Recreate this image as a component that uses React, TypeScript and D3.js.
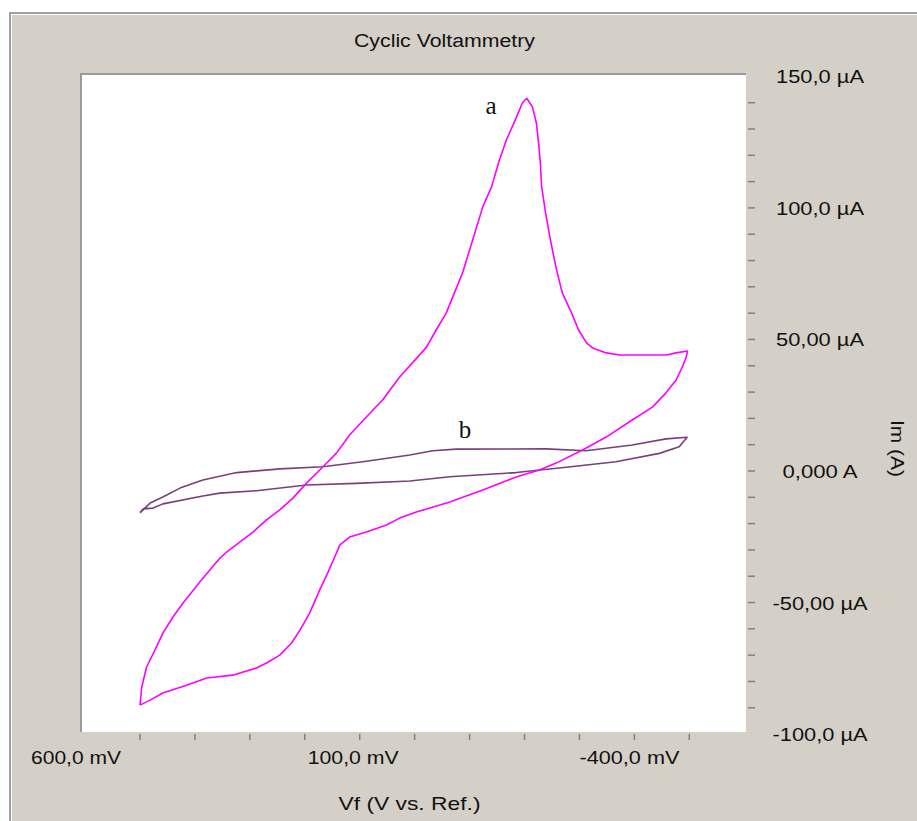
import React from "react";
import * as d3 from "d3";

// ---- data (mV, µA) ----
const curveA_V = [600, 596, 585, 566, 548, 525, 502, 482, 464, 441, 418, 403, 373, 343, 312, 282, 252, 221, 184, 153, 123, 85, 48, 9, -20, -52, -74, -97, -134, -157, -180, -200, -218, -234, -257, -270, -280, -293, -302, -307, -311, -314, -323, -334, -348, -361, -382, -398, -416, -430, -461, -491, -598, -620, -646, -643, -634, -620, -597, -566, -520, -461, -407, -347, -309, -256, -180, -105, -29, 9, 39, 85, 123, 145, 157, 173, 191, 214, 236, 255, 282, 312, 335, 389, 448, 494, 548, 577, 600];
const curveA_I = [-89.0, -82.1, -74.5, -68.1, -61.6, -55.5, -50.2, -46.0, -42.2, -37.6, -33.1, -30.8, -27.0, -23.2, -18.6, -14.8, -10.3, -4.6, 1.5, 6.8, 13.7, 20.5, 27.0, 35.7, 41.1, 47.1, 53.6, 60.1, 75.3, 87.8, 100.4, 108.0, 118.3, 125.9, 134.6, 139.9, 141.7, 138.4, 132.3, 124.7, 117.1, 108.0, 98.1, 87.8, 76.4, 67.7, 60.1, 53.6, 48.7, 46.8, 44.9, 44.1, 44.1, 44.9, 45.6, 43.3, 39.5, 34.6, 29.7, 24.3, 19.4, 12.9, 8.0, 3.0, 0.4, -2.3, -7.2, -11.8, -15.6, -17.9, -20.5, -23.2, -25.1, -28.1, -32.7, -38.8, -45.2, -54.0, -60.5, -65.4, -70.0, -73.0, -74.9, -77.6, -78.7, -81.4, -84.4, -87.1, -89.0];

const curveB_V = [600, 577, 548, 509, 457, 380, 282, 184, 93, -14, -66, -120, -324, -415, -520, -597, -645, -627, -582, -483, -370, -256, -105, -14, 108, 221, 335, 418, 457, 548, 570, 593, 600];
const curveB_I = [-15.9, -12.2, -9.9, -6.5, -3.4, -0.6, 0.8, 1.6, 3.5, 6.1, 7.7, 8.3, 8.4, 7.7, 9.9, 12.2, 12.8, 9.2, 6.7, 3.5, 1.4, -0.6, -2.2, -3.8, -4.7, -5.3, -7.5, -8.4, -9.5, -12.5, -14.1, -14.4, -15.9];

const X_TICKS = [600, 475, 350, 225, 100, -25, -150, -275, -400, -525, -650];
const X_LABEL_VALUES = [600, 100, -400];
const X_LABEL_TEXT = ["600,0 mV", "100,0 mV", "-400,0 mV"];
const Y_TICKS = d3.range(-90, 141, 10);
const Y_LABEL_VALUES = [150, 100, 50, 0, -50, -100];
const Y_LABEL_TEXT = ["150,0 µA", "100,0 µA", "50,00 µA", "0,000 A", "-50,00 µA", "-100,0 µA"];

const TITLE = "Cyclic Voltammetry";
const X_TITLE = "Vf (V vs. Ref.)";
const Y_TITLE = "Im (A)";

// ---- layout ----
const W = 917, H = 821;
const PLOT = { left: 82, top: 75, right: 746, bottom: 732 };
const X_LABEL_DX = [-64, -6.5, 50];
const X_LABEL_W = [90, 91, 100];
const Y_LABEL_W = [88, 88, 88, 75, 95, 95];
const FONT = "'Liberation Sans', Arial, sans-serif";

export default function App() {
  const x = d3.scaleLinear().domain([600, -650]).range([140, 689.3]);
  const y = d3.scaleLinear().domain([0, 140]).range([471, 102.7]);

  const ptsA = curveA_V.map((v, i) => [v, curveA_I[i]] as [number, number]);
  const ptsB = curveB_V.map((v, i) => [v, curveB_I[i]] as [number, number]);
  const line = d3.line<[number, number]>().x((d) => x(d[0])).y((d) => y(d[1]));

  const panel = "#d4d0c8";
  const frame = "#a0a0a0";
  const tickCol = "#808080";

  return (
    <svg width={W} height={H} style={{ position: "absolute", left: 0, top: 0, display: "block" }}>
      <rect x={0} y={0} width={W} height={H} fill="#ffffff" />
      {/* window frame */}
      <rect x={9} y={12} width={W - 9} height={H - 12} fill={frame} />
      <rect x={11} y={14} width={W - 11} height={H - 14} fill="#ffffff" />
      <rect x={12} y={15} width={W - 12} height={H - 15} fill={panel} />

      {/* plot area */}
      <rect x={PLOT.left - 2} y={PLOT.top - 2} width={PLOT.right - PLOT.left + 2} height={PLOT.bottom - PLOT.top + 2} fill="#9a9a9a" />
      <rect x={PLOT.left} y={PLOT.top} width={PLOT.right - PLOT.left} height={PLOT.bottom - PLOT.top} fill="#ffffff" />

      {/* title */}
      <text x={444.5} y={47} textAnchor="middle" fontFamily={FONT} fontSize={18} fill="#111" textLength={181} lengthAdjust="spacingAndGlyphs">
        {TITLE}
      </text>

      {/* x ticks */}
      {X_TICKS.map((t) => (
        <line key={"xt" + t} x1={x(t)} x2={x(t)} y1={PLOT.bottom + 2} y2={PLOT.bottom + 8} stroke={tickCol} strokeWidth={1.5} />
      ))}
      {X_LABEL_VALUES.map((v, i) => (
        <text key={"xl" + v} x={x(v) + X_LABEL_DX[i]} y={764} textAnchor="middle" fontFamily={FONT} fontSize={19} fill="#111" textLength={X_LABEL_W[i]} lengthAdjust="spacingAndGlyphs">
          {X_LABEL_TEXT[i]}
        </text>
      ))}
      <text x={409.5} y={810} textAnchor="middle" fontFamily={FONT} fontSize={19} fill="#111" textLength={142} lengthAdjust="spacingAndGlyphs">
        {X_TITLE}
      </text>

      {/* y ticks (right) */}
      {Y_TICKS.map((t) => (
        <line key={"yt" + t} x1={PLOT.right + 2} x2={PLOT.right + 9} y1={y(t)} y2={y(t)} stroke={tickCol} strokeWidth={1.5} />
      ))}
      {Y_LABEL_VALUES.map((v, i) => (
        <text key={"yl" + v} x={820} y={y(v) + 7} textAnchor="middle" fontFamily={FONT} fontSize={19} fill="#111" textLength={Y_LABEL_W[i]} lengthAdjust="spacingAndGlyphs">
          {Y_LABEL_TEXT[i]}
        </text>
      ))}
      <text transform="translate(891,448.5) rotate(90)" textAnchor="middle" fontFamily={FONT} fontSize={19} fill="#111" textLength={57} lengthAdjust="spacingAndGlyphs">
        {Y_TITLE}
      </text>

      {/* curves */}
      <path d={line(ptsB) || ""} fill="none" stroke="#7a3f7a" strokeWidth={1.6} strokeLinejoin="round" />
      <path d={line(ptsA) || ""} fill="none" stroke="#ff00ff" strokeWidth={1.6} strokeLinejoin="round" />

      {/* curve labels */}
      <text x={491} y={114} textAnchor="middle" fontFamily="'Liberation Serif', 'Times New Roman', serif" fontSize={25} fill="#111">a</text>
      <text x={465} y={438} textAnchor="middle" fontFamily="'Liberation Serif', 'Times New Roman', serif" fontSize={25} fill="#111">b</text>
    </svg>
  );
}
